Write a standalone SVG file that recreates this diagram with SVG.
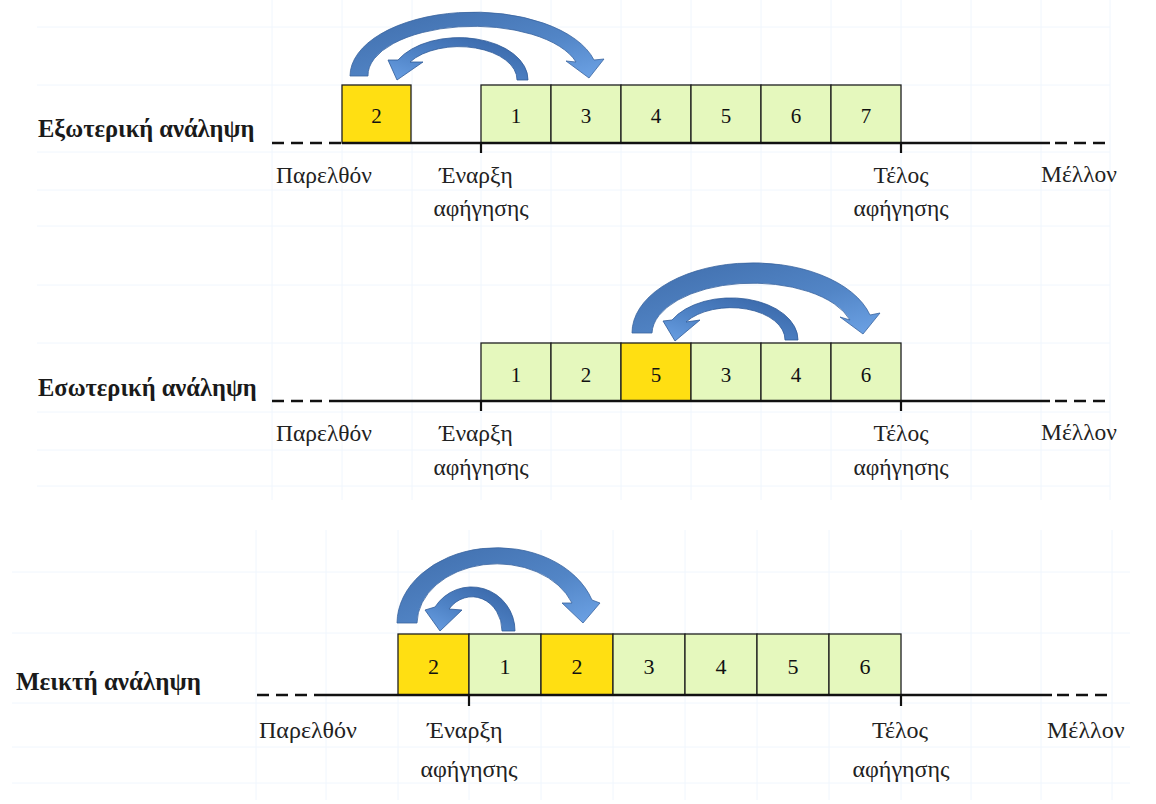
<svg xmlns="http://www.w3.org/2000/svg" width="1156" height="804" viewBox="0 0 1156 804">
<defs>
<linearGradient id="gOut" x1="0" y1="0" x2="1" y2="1">
<stop offset="0" stop-color="#3f6dab"/>
<stop offset="0.6" stop-color="#5285c6"/>
<stop offset="1" stop-color="#6da3e6"/>
</linearGradient>
<linearGradient id="gIn" x1="1" y1="0" x2="0" y2="1">
<stop offset="0" stop-color="#3562a3"/>
<stop offset="0.6" stop-color="#4f83c6"/>
<stop offset="1" stop-color="#6aa0e4"/>
</linearGradient>
<style>
.grid{stroke:#f0f6fd;stroke-width:1;fill:none}
.box{stroke:#1f1f1f;stroke-width:1.3}
.g{fill:#e5f8bd}
.y{fill:#ffdf12}
.num{font-family:"Liberation Serif",serif;font-size:21px;fill:#111;text-anchor:middle}
.lbl{font-family:"Liberation Serif",serif;font-size:23.5px;fill:#222}
.lbl3{font-size:24px}
.mid{text-anchor:middle}
.title{font-family:"Liberation Serif",serif;font-size:24.5px;font-weight:bold;fill:#1a1a1a}
.line{stroke:#111;stroke-width:2.6;fill:none}
.dash{stroke:#111;stroke-width:2.6;fill:none;stroke-dasharray:12 7}
.tick{stroke:#111;stroke-width:2.2}
.aOut{fill:url(#gOut);stroke:#3a64a0;stroke-width:0.8}
.aIn{fill:url(#gIn);stroke:#2f5a98;stroke-width:0.8}
</style>
</defs>
<rect width="1156" height="804" fill="#ffffff"/>
<g id="grid" class="grid">
<path d="M272,0V500M342,0V500M412,0V500M481,0V500M551,0V500M621,0V500M691,0V500M761,0V500M831,0V500M901,0V500M971,0V500M1041,0V500M1110,0V500"/>
<path d="M37,27H1110M37,85H1110M37,152H1110M37,190H1110M37,226H1110M37,285H1110M37,343H1110M37,412H1110M37,450H1110M37,486H1110"/>
<path d="M256,530V800M326,530V800M398,530V800M469,530V800M541,530V800M613,530V800M685,530V800M757,530V800M829,530V800M901,530V800M971,530V800M1041,530V800M1112,530V800"/>
<path d="M12,572H1130M12,633H1130M12,703H1130M12,747H1130M12,783H1130"/>
</g>

<g id="panel1">
<text class="title" x="38" y="137">Εξωτερική ανάληψη</text>
<g id="p1-boxes">
<rect class="box y" x="342" y="85" width="69" height="58"/>
<rect class="box g" x="481" y="85" width="70" height="58"/>
<rect class="box g" x="551" y="85" width="70" height="58"/>
<rect class="box g" x="621" y="85" width="70" height="58"/>
<rect class="box g" x="691" y="85" width="70" height="58"/>
<rect class="box g" x="761" y="85" width="70" height="58"/>
<rect class="box g" x="831" y="85" width="70" height="58"/>
<text class="num" x="376.5" y="123">2</text>
<text class="num" x="516" y="123">1</text>
<text class="num" x="586" y="123">3</text>
<text class="num" x="656" y="123">4</text>
<text class="num" x="726" y="123">5</text>
<text class="num" x="796" y="123">6</text>
<text class="num" x="866" y="123">7</text>
</g>
<g id="p1-timeline">
<line class="dash" x1="272" y1="143" x2="342" y2="143"/>
<line class="line" x1="342" y1="143" x2="1050" y2="143"/>
<line class="dash" x1="1055" y1="143" x2="1106" y2="143"/>
<line class="tick" x1="481" y1="143" x2="481" y2="153"/>
<line class="tick" x1="901" y1="143" x2="901" y2="153"/>
</g>
<text class="lbl" x="276" y="183">Παρελθόν</text>
<text class="lbl mid" x="476" y="183">Έναρξη</text>
<text class="lbl mid" x="481" y="216">αφήγησης</text>
<text class="lbl mid" x="901" y="183">Τέλος</text>
<text class="lbl mid" x="901" y="216">αφήγησης</text>
<text class="lbl" x="1041" y="182">Μέλλον</text>
</g>

<g id="panel2">
<text class="title" x="38" y="396">Εσωτερική ανάληψη</text>
<g id="p2-boxes">
<rect class="box g" x="481" y="343" width="70" height="58"/>
<rect class="box g" x="551" y="343" width="70" height="58"/>
<rect class="box y" x="621" y="343" width="70" height="58"/>
<rect class="box g" x="691" y="343" width="70" height="58"/>
<rect class="box g" x="761" y="343" width="70" height="58"/>
<rect class="box g" x="831" y="343" width="70" height="58"/>
<text class="num" x="516" y="382">1</text>
<text class="num" x="586" y="382">2</text>
<text class="num" x="656" y="382">5</text>
<text class="num" x="726" y="382">3</text>
<text class="num" x="796" y="382">4</text>
<text class="num" x="866" y="382">6</text>
</g>
<g id="p2-timeline">
<line class="dash" x1="272" y1="401" x2="332" y2="401"/>
<line class="line" x1="332" y1="401" x2="1050" y2="401"/>
<line class="dash" x1="1055" y1="401" x2="1106" y2="401"/>
<line class="tick" x1="481" y1="401" x2="481" y2="411"/>
<line class="tick" x1="901" y1="401" x2="901" y2="411"/>
</g>
<text class="lbl" x="276" y="441">Παρελθόν</text>
<text class="lbl mid" x="476" y="441">Έναρξη</text>
<text class="lbl mid" x="481" y="475">αφήγησης</text>
<text class="lbl mid" x="901" y="441">Τέλος</text>
<text class="lbl mid" x="901" y="475">αφήγησης</text>
<text class="lbl" x="1041" y="440">Μέλλον</text>
</g>

<g id="panel3">
<text class="title" x="16" y="690" style="font-size:25px">Μεικτή ανάληψη</text>
<g id="p3-boxes">
<rect class="box y" x="398" y="634" width="71" height="61"/>
<rect class="box g" x="469" y="634" width="72" height="61"/>
<rect class="box y" x="541" y="634" width="72" height="61"/>
<rect class="box g" x="613" y="634" width="72" height="61"/>
<rect class="box g" x="685" y="634" width="72" height="61"/>
<rect class="box g" x="757" y="634" width="72" height="61"/>
<rect class="box g" x="829" y="634" width="72" height="61"/>
<text class="num" x="433.5" y="674" style="font-size:22px">2</text>
<text class="num" x="505" y="674" style="font-size:22px">1</text>
<text class="num" x="577" y="674" style="font-size:22px">2</text>
<text class="num" x="649" y="674" style="font-size:22px">3</text>
<text class="num" x="721" y="674" style="font-size:22px">4</text>
<text class="num" x="793" y="674" style="font-size:22px">5</text>
<text class="num" x="865" y="674" style="font-size:22px">6</text>
</g>
<g id="p3-timeline">
<line class="dash" x1="257" y1="695" x2="318" y2="695"/>
<line class="line" x1="318" y1="695" x2="1052" y2="695"/>
<line class="dash" x1="1057" y1="695" x2="1112" y2="695"/>
<line class="tick" x1="469" y1="695" x2="469" y2="706"/>
<line class="tick" x1="901" y1="695" x2="901" y2="706"/>
</g>
<text class="lbl lbl3" x="259" y="738">Παρελθόν</text>
<text class="lbl lbl3 mid" x="465" y="738">Έναρξη</text>
<text class="lbl lbl3 mid" x="469" y="777">αφήγησης</text>
<text class="lbl lbl3 mid" x="900" y="738">Τέλος</text>
<text class="lbl lbl3 mid" x="901" y="777">αφήγησης</text>
<text class="lbl lbl3" x="1047" y="738">Μέλλον</text>
</g>

<g id="connectors">
<path id="p1-out" class="aOut" d="M350,76 A124,64 0 0 1 594,60 L604,59 L589,78 L566,61 L576,62 A106,49 0 0 0 368,76 Z"/>
<path id="p1-in" class="aIn" d="M528,80 A69,42 0 0 0 398,60 L388,60 L397,80 L423,62 L410,62 A58,33 0 0 1 517,80 Z"/>
<path id="p2-out" class="aOut" d="M632,333 A121,70 0 0 1 870,315 L880,313 L863,334 L840,317 L850,320 A101,51 0 0 0 652,333 Z"/>
<path id="p2-in" class="aIn" d="M798,340 A67,42 0 0 0 672,320 L663,321 L675,341 L700,320 L686,322 A54,32 0 0 1 785,340 Z"/>
<path id="p3-out" class="aOut" d="M397,623 A100,76 0 0 1 592,600 L600,603 L583,623 L562,603 L572,603 A80,60 0 0 0 417,623 Z"/>
<path id="p3-in" class="aIn" d="M515,631 A43.5,44 0 0 0 435,607 L425,610 L440,631 L462,610 L449,609 A30,34 0 0 1 502,631 Z"/>
</g>
</svg>
